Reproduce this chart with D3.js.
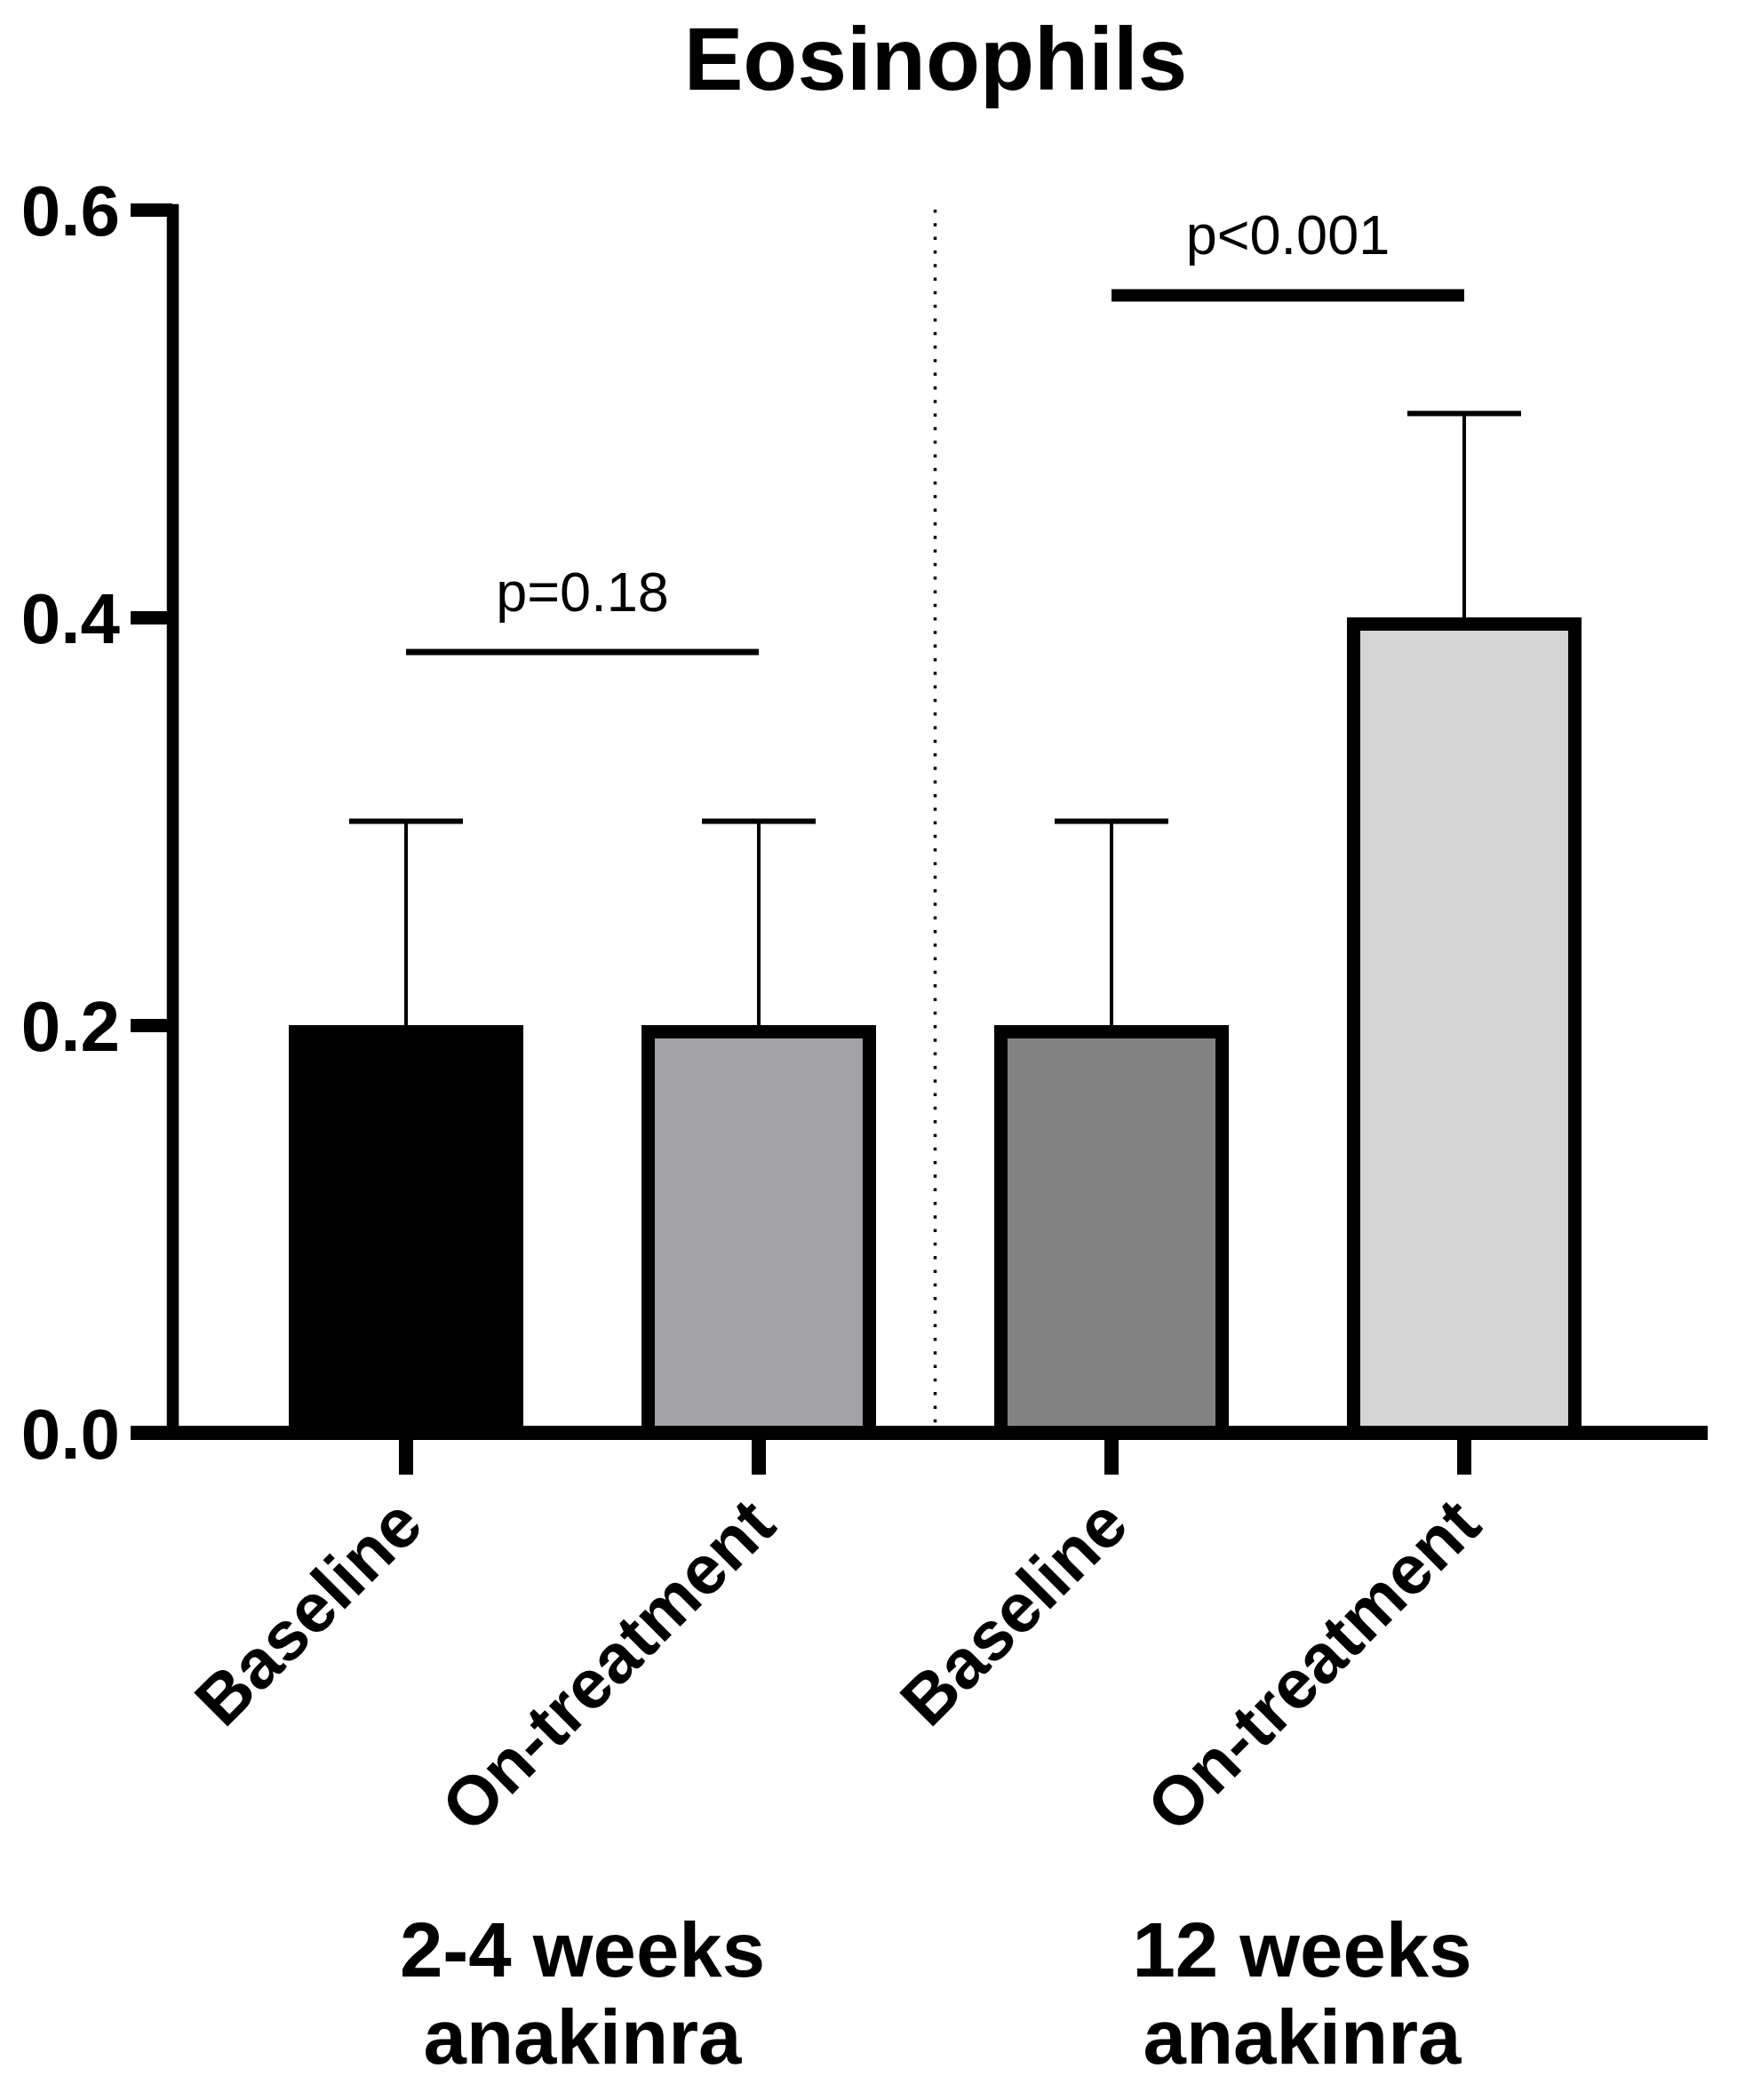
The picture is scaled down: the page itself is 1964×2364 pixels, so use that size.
<!DOCTYPE html>
<html>
<head>
<meta charset="utf-8">
<script src="https://cdn.jsdelivr.net/npm/d3@7"></script>
<style>
  body { margin: 0; background: #fff; }
  text { font-family: Arial, "Liberation Sans", sans-serif; fill: #000; }
</style>
</head>
<body>
<svg id="chart"></svg>
<script>
// data
const barLabels = ["Baseline", "On-treatment", "Baseline", "On-treatment"];
const means     = [0.2, 0.2, 0.2, 0.4];
const upperSD   = [0.3, 0.3, 0.3, 0.5];
const yTicks    = [0, 0.2, 0.4, 0.6];
const groupLabels = [["2-4 weeks", "anakinra"], ["12 weeks", "anakinra"]];
const groupMembers = [[0, 1], [2, 3]];
const compFrom   = [0, 2];
const compTo     = [1, 3];
const compLevel  = [0.383, 0.558];
const compLabel  = ["p=0.18", "p<0.001"];

// styling
const barFills = ["#000000", "#a3a2a7", "#828282", "#d4d4d4"];
const compWidth = [7, 14];
const groupShift = [0, 16];

const width = 1964;
const height = 2364;
const axisX = 194;        // y axis position
const barStroke = 15;
const axisStroke = 15;
const tickLen = 47;

const svg = d3.select("#chart").attr("width", width).attr("height", height);

const y = d3.scaleLinear().domain([0, 0.6]).range([1613, 236]);
const x = d3.scaleBand()
    .domain(barLabels.map((d, i) => i))
    .range([axisX, 1911])
    .paddingInner(0.335)
    .paddingOuter(0.33);
const cx = i => x(i) + x.bandwidth() / 2;

// title
svg.append("text")
    .attr("x", 1053).attr("y", 101)
    .attr("text-anchor", "middle")
    .style("font-size", "100px").style("font-weight", "bold")
    .text("Eosinophils");

// dotted divider between the two groups
const divX = (cx(1) + cx(2)) / 2;
svg.append("line")
    .attr("x1", divX).attr("x2", divX)
    .attr("y1", y(0.6)).attr("y2", y(0) - 8)
    .attr("stroke", "#000").attr("stroke-width", 3.5)
    .attr("stroke-dasharray", "3.5 11.8");

// bars
svg.append("g").selectAll("rect")
    .data(means)
    .join("rect")
    .attr("x", (d, i) => x(i) + barStroke / 2)
    .attr("width", x.bandwidth() - barStroke)
    .attr("y", d => y(d) + barStroke / 2)
    .attr("height", d => y(0) - y(d) - barStroke / 2)
    .attr("fill", (d, i) => barFills[i])
    .attr("stroke", "#000")
    .attr("stroke-width", barStroke);

// error bars (upper only)
const err = svg.append("g");
err.selectAll(".stem")
    .data(upperSD)
    .join("line")
    .attr("x1", (d, i) => cx(i)).attr("x2", (d, i) => cx(i))
    .attr("y1", (d, i) => y(means[i])).attr("y2", d => y(d))
    .attr("stroke", "#000").attr("stroke-width", 4);
err.selectAll(".cap")
    .data(upperSD)
    .join("line")
    .attr("x1", (d, i) => cx(i) - 64).attr("x2", (d, i) => cx(i) + 64)
    .attr("y1", d => y(d)).attr("y2", d => y(d))
    .attr("stroke", "#000").attr("stroke-width", 6);

// y axis
const yAxis = svg.append("g")
    .attr("transform", `translate(${axisX},0)`)
    .call(d3.axisLeft(y).tickValues(yTicks).tickSize(tickLen).tickSizeOuter(0)
        .tickFormat(d3.format(".1f")));
yAxis.select(".domain")
    .attr("stroke-width", 13.5)
    .attr("stroke-linecap", "square");
yAxis.selectAll(".tick line").attr("stroke-width", axisStroke);
yAxis.selectAll(".tick text")
    .attr("x", -tickLen - 12)
    .attr("dy", "0.35em")
    .style("font-size", "80px").style("font-weight", "bold")
    .attr("fill", "#000");

// x axis
const xAxis = svg.append("g")
    .attr("transform", `translate(0,${y(0)})`)
    .call(d3.axisBottom(x).tickSize(tickLen).tickSizeOuter(0).tickFormat(""));
xAxis.select(".domain").remove();
xAxis.append("line")
    .attr("x1", axisX - tickLen).attr("x2", 1922)
    .attr("y1", 0).attr("y2", 0)
    .attr("stroke", "#000").attr("stroke-width", 16);
xAxis.selectAll(".tick line").attr("stroke-width", 16);

// rotated category labels
svg.append("g").selectAll("text")
    .data(barLabels)
    .join("text")
    .attr("transform", (d, i) => `translate(${cx(i) + 3},${y(0) + 88}) rotate(-45)`)
    .attr("text-anchor", "end")
    .attr("dy", "0.35em")
    .style("font-size", "78px").style("font-weight", "bold")
    .text(d => d);

// group labels
groupLabels.forEach((lines, g) => {
    const gx = d3.mean(groupMembers[g], i => cx(i)) + groupShift[g];
    const t = svg.append("text")
        .attr("text-anchor", "middle")
        .style("font-size", "87px").style("font-weight", "bold");
    lines.forEach((ln, k) => {
        t.append("tspan").attr("x", gx).attr("y", 2225 + k * 98).text(ln);
    });
});

// significance comparisons
compLabel.forEach((lab, k) => {
    const x1 = cx(compFrom[k]);
    const x2 = cx(compTo[k]);
    const ly = y(compLevel[k]);
    svg.append("line")
        .attr("x1", x1).attr("x2", x2)
        .attr("y1", ly).attr("y2", ly)
        .attr("stroke", "#000").attr("stroke-width", compWidth[k]);
    svg.append("text")
        .attr("x", (x1 + x2) / 2).attr("y", ly - 46)
        .attr("text-anchor", "middle")
        .style("font-size", "63px")
        .text(lab);
});
</script>
</body>
</html>
